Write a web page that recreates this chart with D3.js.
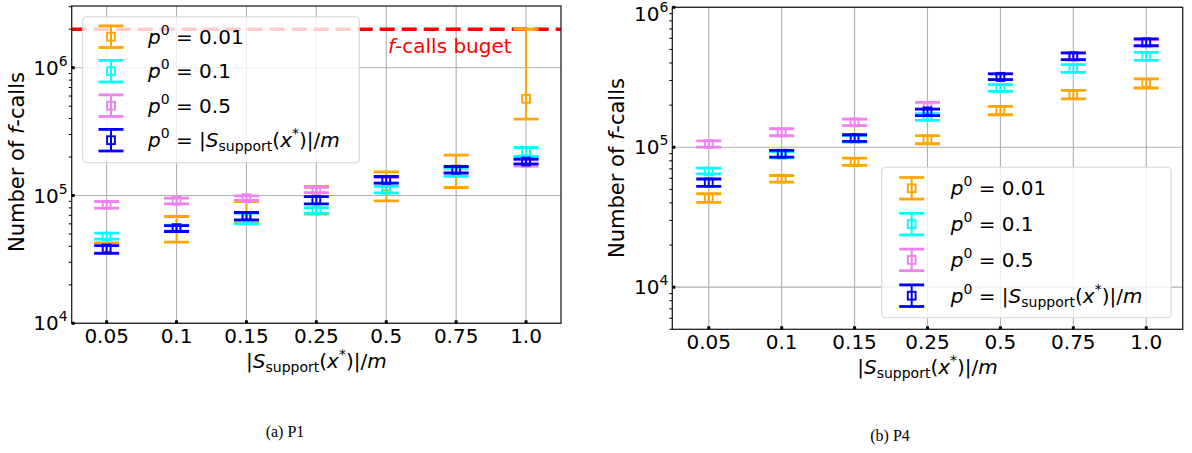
<!DOCTYPE html>
<html>
<head>
<meta charset="utf-8">
<script src="https://cdn.jsdelivr.net/npm/d3@7"></script>
<style>
body { margin: 0; background: #fff; }
svg { display: block; }
</style>
</head>
<body>
<div id="chart"></div>
<script>
// categories on the x axis
var categories = ["0.05", "0.1", "0.15", "0.25", "0.5", "0.75", "1.0"];
var seriesColors = ["orange", "cyan", "violet", "blue"];
var budget = 2e6;

// P1 : [mean, lower, upper] for each category
var p1_p001 = [[39e3, 35.5e3, 42.5e3], [55.5e3, 43.2e3, 68.5e3], [69e3, 61.5e3, 89.8e3], [92.5e3, 71.5e3, 117.6e3], [118e3, 90.8e3, 153e3], [158e3, 115.5e3, 207e3], [571e3, 396e3, 2.0e6]];
var p1_p01 = [[47.7e3, 45.5e3, 50.7e3], [55.5e3, 52.5e3, 58.5e3], [66e3, 60.1e3, 72.9e3], [76.5e3, 72.7e3, 80.5e3], [111e3, 105e3, 118e3], [152e3, 141e3, 163e3], [221e3, 202e3, 237.5e3]];
var p1_p05 = [[84.5e3, 79.6e3, 89.8e3], [90.8e3, 86.1e3, 95.3e3], [95.3e3, 91.4e3, 99.4e3], [110.7e3, 105.5e3, 116e3], [131e3, 125e3, 138e3], [160e3, 152e3, 168e3], [180e3, 170e3, 190e3]];
var p1_psup = [[38.5e3, 35.2e3, 40.6e3], [55.5e3, 52.3e3, 58.2e3], [69.3e3, 64.5e3, 73.6e3], [92.5e3, 86e3, 98e3], [132.6e3, 124.9e3, 140.8e3], [159e3, 149.7e3, 168.6e3], [184.5e3, 177e3, 192.7e3]];

// P4 : [mean, lower, upper] for each category
var p4_p001 = [[43.4e3, 40.3e3, 46.5e3], [59.6e3, 56.4e3, 62.8e3], [78.3e3, 74.1e3, 83.7e3], [113.1e3, 105.9e3, 120.9e3], [183.3e3, 170.6e3, 195.7e3], [237.6e3, 221.3e3, 254.6e3], [287.7e3, 265e3, 307.6e3]];
var p4_p01 = [[67.1e3, 64.6e3, 71e3], [88.5e3, 84e3, 93e3], [115e3, 109e3, 121e3], [164.4e3, 155.5e3, 173.8e3], [265e3, 250.7e3, 280e3], [364.9e3, 343e3, 389e3], [446.6e3, 418e3, 476e3]];
var p4_p05 = [[105.4e3, 100.3e3, 111e3], [127.6e3, 120.8e3, 135.6e3], [150.4e3, 142.9e3, 158.8e3], [198e3, 187.5e3, 209e3], [320e3, 305e3, 336e3], [445e3, 421e3, 470e3], [555e3, 525e3, 585e3]];
var p4_psup = [[56e3, 52.5e3, 59.3e3], [89.9e3, 85.1e3, 94.9e3], [116.3e3, 110.1e3, 122.8e3], [180.3e3, 168e3, 187.5e3], [317.6e3, 304e3, 334e3], [446.6e3, 422.6e3, 472e3], [562e3, 532e3, 594e3]];

// legend labels as [text, kind] pieces (mathtext-like)
var legendLabels = [
    [["p", "i"], ["0", "sup"], [" = 0.01", "n"]],
    [["p", "i"], ["0", "sup"], [" = 0.1", "n"]],
    [["p", "i"], ["0", "sup"], [" = 0.5", "n"]],
    [["p", "i"], ["0", "sup"], [" = |", "n"], ["S", "i"], ["support", "sub"], ["(", "n"], ["x", "i"], ["*", "sup"], [")|/", "n"], ["m", "i"]]
];
var xLabel = [["|", "n"], ["S", "i"], ["support", "sub"], ["(", "n"], ["x", "i"], ["*", "sup"], [")|/", "n"], ["m", "i"]];
var yLabel = [["Number of ", "n"], ["f", "i"], ["-calls", "n"]];

var font = "DejaVu Sans";

var svg = d3.select("#chart").append("svg")
    .attr("width", 1192)
    .attr("height", 453);

// write mathtext-ish pieces into a text element
function mathText(textSel, parts, fs) {
    var cur = 0;
    parts.forEach(function(p) {
        var kind = p[1];
        var target = 0, size = fs, style = "normal";
        if (kind == "sup") { target = -0.45 * fs; size = 0.7 * fs; }
        if (kind == "sub") { target = 0.2 * fs; size = 0.7 * fs; }
        if (kind == "i") style = "italic";
        textSel.append("tspan")
            .attr("dy", target - cur)
            .attr("font-size", size)
            .attr("font-style", style)
            .text(p[0]);
        cur = target;
    });
}

function errorbar(g, cx, y, d, color) {
    var yl = y(d[1]), yh = y(d[2]), ym = y(d[0]);
    g.append("line").attr("x1", cx).attr("x2", cx).attr("y1", yl).attr("y2", yh)
        .attr("stroke", color).attr("stroke-width", 2);
    [yl, yh].forEach(function(cy) {
        g.append("line").attr("x1", cx - 12.5).attr("x2", cx + 12.5).attr("y1", cy).attr("y2", cy)
            .attr("stroke", color).attr("stroke-width", 2.8);
    });
    g.append("rect").attr("x", cx - 3.9).attr("y", ym - 3.9).attr("width", 7.8).attr("height", 7.8)
        .attr("fill", "none").attr("stroke", color).attr("stroke-width", 1.9);
}

function drawPanel(cfg) {
    var g = svg.append("g");
    var x = d3.scaleLinear().domain([-0.5, categories.length - 0.5]).range([cfg.x0, cfg.x1]);
    var y = d3.scaleLog().domain(cfg.ydom).range([cfg.y1, cfg.y0]);

    var clipId = "clip" + cfg.id;
    svg.append("clipPath").attr("id", clipId).append("rect")
        .attr("x", cfg.x0).attr("y", cfg.y0).attr("width", cfg.x1 - cfg.x0).attr("height", cfg.y1 - cfg.y0);

    // grid
    var majors = y.ticks().filter(function(t) { return Math.abs(Math.log10(t) - Math.round(Math.log10(t))) < 1e-9; });
    var minors = y.ticks().filter(function(t) { return majors.indexOf(t) < 0; });
    majors.forEach(function(t) {
        g.append("line").attr("x1", cfg.x0).attr("x2", cfg.x1).attr("y1", y(t)).attr("y2", y(t))
            .attr("stroke", "#b0b0b0").attr("stroke-width", 1.1);
    });
    categories.forEach(function(c, i) {
        g.append("line").attr("x1", x(i)).attr("x2", x(i)).attr("y1", cfg.y0).attr("y2", cfg.y1)
            .attr("stroke", "#b0b0b0").attr("stroke-width", 1.1);
    });

    // budget line
    if (cfg.budget) {
        g.append("line").attr("x1", cfg.x0).attr("x2", cfg.x1).attr("y1", y(budget)).attr("y2", y(budget))
            .attr("stroke", "red").attr("stroke-width", 3.5).attr("stroke-dasharray", "15,7");
        var bt = g.append("text").attr("x", cfg.budgetTextX).attr("y", cfg.budgetTextY)
            .attr("font-family", font).attr("font-size", 20).attr("fill", "red");
        mathText(bt, [["f", "i"], ["-calls buget", "n"]], 20);
    }

    // error bars
    var data = g.append("g").attr("clip-path", "url(#" + clipId + ")");
    cfg.series.forEach(function(s, k) {
        s.forEach(function(d, i) {
            errorbar(data, x(i), y, d, seriesColors[k]);
        });
    });

    // legend
    var L = cfg.legend;
    g.append("rect").attr("x", L.x).attr("y", L.y).attr("width", L.w).attr("height", L.h)
        .attr("rx", 4).attr("fill", "white").attr("fill-opacity", 0.8)
        .attr("stroke", "#d6d6d6").attr("stroke-width", 1.1);
    legendLabels.forEach(function(lab, k) {
        var ry = L.row0 + k * L.dy;
        var col = seriesColors[k];
        g.append("line").attr("x1", L.hx).attr("x2", L.hx).attr("y1", ry - 10.8).attr("y2", ry + 10.8)
            .attr("stroke", col).attr("stroke-width", 2);
        [ry - 10.8, ry + 10.8].forEach(function(cy) {
            g.append("line").attr("x1", L.hx - 12.5).attr("x2", L.hx + 12.5).attr("y1", cy).attr("y2", cy)
                .attr("stroke", col).attr("stroke-width", 2.8);
        });
        g.append("rect").attr("x", L.hx - 3.9).attr("y", ry - 3.9).attr("width", 7.8).attr("height", 7.8)
            .attr("fill", "none").attr("stroke", col).attr("stroke-width", 1.9);
        var t = g.append("text").attr("x", L.tx).attr("y", ry + 7)
            .attr("font-family", font).attr("font-size", 20).attr("fill", "#000");
        mathText(t, lab, 20);
    });

    // spines
    g.append("rect").attr("x", cfg.x0).attr("y", cfg.y0).attr("width", cfg.x1 - cfg.x0).attr("height", cfg.y1 - cfg.y0)
        .attr("fill", "none").attr("stroke", "#222").attr("stroke-width", 1.3);

    // y ticks
    majors.forEach(function(t) {
        g.append("line").attr("x1", cfg.x0).attr("x2", cfg.x0 + 3).attr("y1", y(t)).attr("y2", y(t))
            .attr("stroke", "#000").attr("stroke-width", 3);
        var lt = g.append("text").attr("x", cfg.x0 - 4).attr("y", Math.max(y(t) + 7, 21))
            .attr("text-anchor", "end").attr("font-family", font).attr("font-size", 20).attr("fill", "#000");
        mathText(lt, [["10", "n"], [String(Math.round(Math.log10(t))), "sup"]], 20);
    });
    minors.forEach(function(t) {
        g.append("line").attr("x1", cfg.x0 - 3).attr("x2", cfg.x0).attr("y1", y(t)).attr("y2", y(t))
            .attr("stroke", "#000").attr("stroke-width", 1);
    });

    // x ticks
    categories.forEach(function(c, i) {
        g.append("line").attr("x1", x(i)).attr("x2", x(i)).attr("y1", cfg.y1).attr("y2", cfg.y1 - 3)
            .attr("stroke", "#000").attr("stroke-width", 3);
        g.append("text").attr("x", x(i)).attr("y", cfg.y1 + 20)
            .attr("text-anchor", "middle").attr("font-family", font).attr("font-size", 20).attr("fill", "#000")
            .text(c);
    });

    // axis labels
    var xl = g.append("text").attr("x", (cfg.x0 + cfg.x1) / 2).attr("y", cfg.y1 + 45)
        .attr("text-anchor", "middle").attr("font-family", font).attr("font-size", 20).attr("fill", "#000");
    mathText(xl, xLabel, 20);

    var yl = g.append("text")
        .attr("transform", "translate(" + cfg.ylabelX + "," + cfg.ylabelY + ") rotate(-90)")
        .attr("text-anchor", "middle").attr("font-family", font).attr("font-size", 21).attr("fill", "#000");
    mathText(yl, yLabel, 21);

    // caption
    g.append("text").attr("x", cfg.capX).attr("y", cfg.capY)
        .attr("text-anchor", "middle").attr("font-family", "Liberation Serif").attr("font-size", 16)
        .attr("fill", "#000").text(cfg.caption);
}

drawPanel({
    id: 1, x0: 71.7, x1: 561, y0: 6, y1: 323.3, ydom: [1e4, 3.04e6],
    series: [p1_p001, p1_p01, p1_p05, p1_psup],
    budget: true, budgetTextX: 388, budgetTextY: 53,
    legend: { x: 82.7, y: 16.7, w: 276.6, h: 146, row0: 36.7, dy: 34.5, hx: 111, tx: 148 },
    ylabelX: 24, ylabelY: 162, capX: 285, capY: 437, caption: "(a) P1"
});

drawPanel({
    id: 2, x0: 672.3, x1: 1182.7, y0: 7.3, y1: 329.3, ydom: [5e3, 1e6],
    series: [p4_p001, p4_p01, p4_p05, p4_psup],
    budget: false,
    legend: { x: 881.7, y: 167.3, w: 289.3, h: 150.4, row0: 188.3, dy: 35.8, hx: 911.7, tx: 950.7 },
    ylabelX: 624, ylabelY: 168, capX: 890, capY: 441, caption: "(b) P4"
});
</script>
</body>
</html>
